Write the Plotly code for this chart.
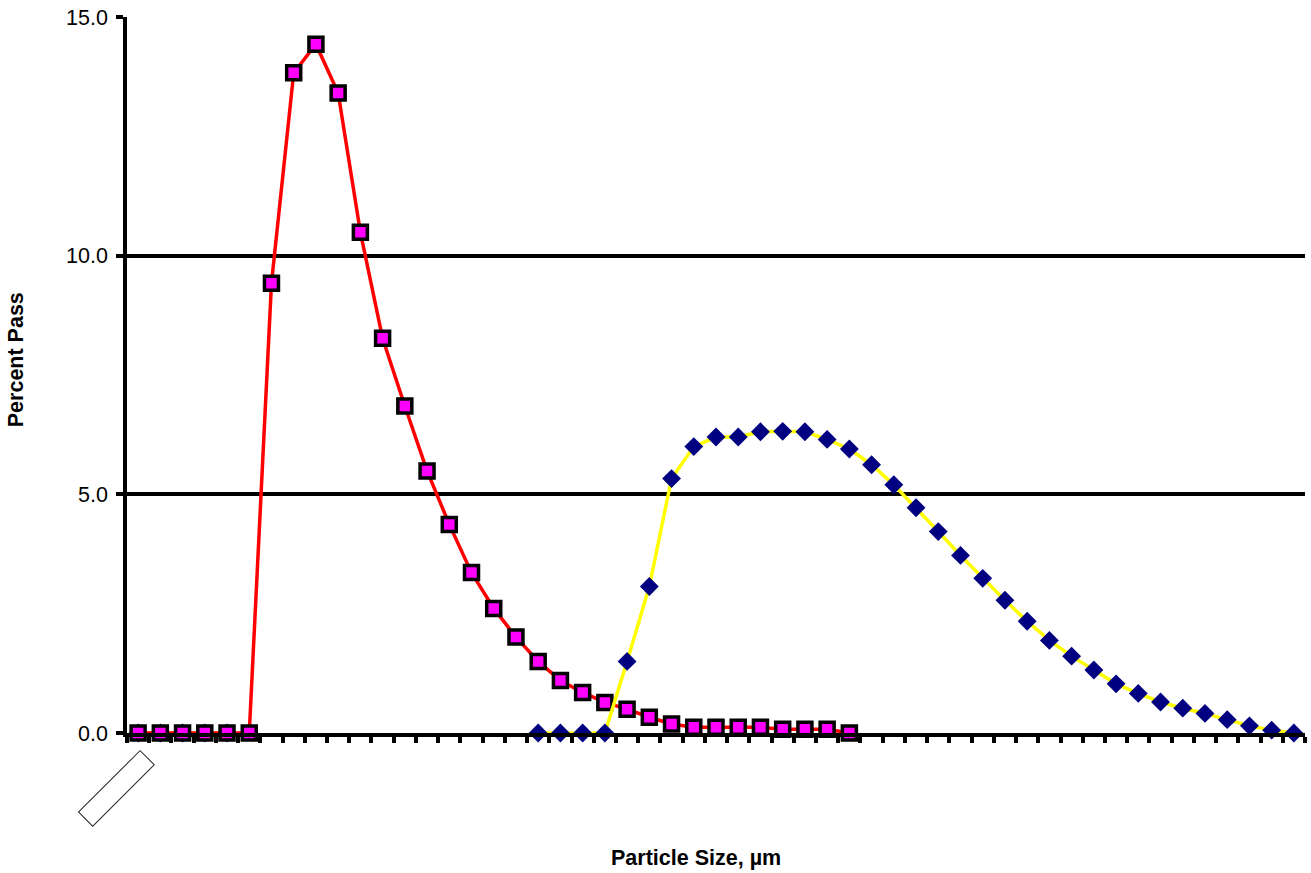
import plotly.graph_objects as go

# category indices (x labels are blank in the reference)
categories = list(range(53))

# red/magenta series (first distribution)
series_a = [0.0, 0.0, 0.0, 0.0, 0.0, 0.0, 9.42, 13.83, 14.43, 13.41,
            10.49, 8.27, 6.85, 5.49, 4.37, 3.36, 2.61, 2.01, 1.50, 1.10,
            0.85, 0.64, 0.50, 0.33, 0.19, 0.12, 0.12, 0.12, 0.12, 0.08,
            0.08, 0.08, 0.0] + [None] * 20

# yellow/navy series (second distribution)
series_b = [0.0, 0.0, 0.0, 0.0, 0.0] + [None] * 13 + \
           [0.0, 0.0, 0.0, 0.0, 1.50, 3.07, 5.33, 6.00, 6.20, 6.20,
            6.31, 6.32, 6.31, 6.15, 5.95, 5.62, 5.20, 4.72, 4.22, 3.72,
            3.24, 2.78, 2.34, 1.94, 1.61, 1.32, 1.03, 0.83, 0.65, 0.52,
            0.41, 0.28, 0.15, 0.06, 0.0]

y_ticks = [0, 5, 10, 15]
y_tick_labels = ["0.0", "5.0", "10.0", "15.0"]

FONT = "Liberation Sans, Arial, sans-serif"

# split series_b so the first segment sits beneath the magenta squares
split_at = 18
b_low = [v if i < split_at else None for i, v in enumerate(series_b)]
b_high = [v if i >= split_at else None for i, v in enumerate(series_b)]

blue_style = dict(
    mode="lines+markers",
    line=dict(color="#FFFF00", width=3.5),
    marker=dict(symbol="diamond", size=14.5, color="#000080",
                line=dict(width=0)),
    connectgaps=False,
    cliponaxis=False,
    showlegend=False,
)

fig = go.Figure()
fig.add_trace(go.Scatter(x=categories, y=b_low, **blue_style))
fig.add_trace(go.Scatter(
    x=categories, y=series_a, mode="lines+markers",
    line=dict(color="#FF0000", width=3.5),
    marker=dict(symbol="square", size=14, color="#FF00FF",
                line=dict(color="#000000", width=3.5)),
    connectgaps=False, cliponaxis=False, showlegend=False,
))
fig.add_trace(go.Scatter(x=categories, y=b_high, **blue_style))

n = len(categories)
fig.update_layout(
    width=1311, height=873,
    margin=dict(l=127, r=6, t=15, b=140),
    paper_bgcolor="white", plot_bgcolor="white",
    font=dict(family=FONT, color="black"),
    xaxis=dict(
        range=[-0.5, n - 0.5],
        tickmode="array",
        tickvals=[i - 0.5 for i in range(n + 1)],
        ticktext=["" for _ in range(n + 1)],
        ticks="outside", ticklen=6, tickwidth=3.5, tickcolor="black",
        showline=True, linecolor="black", linewidth=3.5,
        showgrid=False, zeroline=False,
    ),
    yaxis=dict(
        range=[0, 15],
        tickmode="array",
        tickvals=y_ticks, ticktext=y_tick_labels,
        ticks="outside", ticklen=7, tickwidth=3.5, tickcolor="black",
        ticklabelstandoff=4,
        tickfont=dict(family=FONT, size=21.5, color="black"),
        showline=True, linecolor="black", linewidth=3.5,
        showgrid=True, gridcolor="black", gridwidth=3.5,
        zeroline=False,
    ),
    annotations=[
        dict(text="<b>Particle Size, µm</b>", xref="paper", yref="paper",
             x=0.483, y=-0.174, xanchor="center", yanchor="middle",
             showarrow=False, font=dict(family=FONT, size=21.5, color="black")),
        dict(text="<b>Percent Pass</b>", xref="paper", yref="paper",
             x=-0.094, y=0.521, xanchor="center", yanchor="middle",
             textangle=-90, showarrow=False,
             font=dict(family=FONT, size=21.5, color="black")),
        dict(text=" ", xref="x", yref="y", x=categories[0], y=0,
             xshift=-22, yshift=-55, xanchor="center", yanchor="middle",
             width=86, height=19, textangle=-45, showarrow=False,
             bordercolor="#222222", borderwidth=1, borderpad=0,
             bgcolor="white", font=dict(family=FONT, size=12)),
    ],
)

fig.write_html("out.html")
